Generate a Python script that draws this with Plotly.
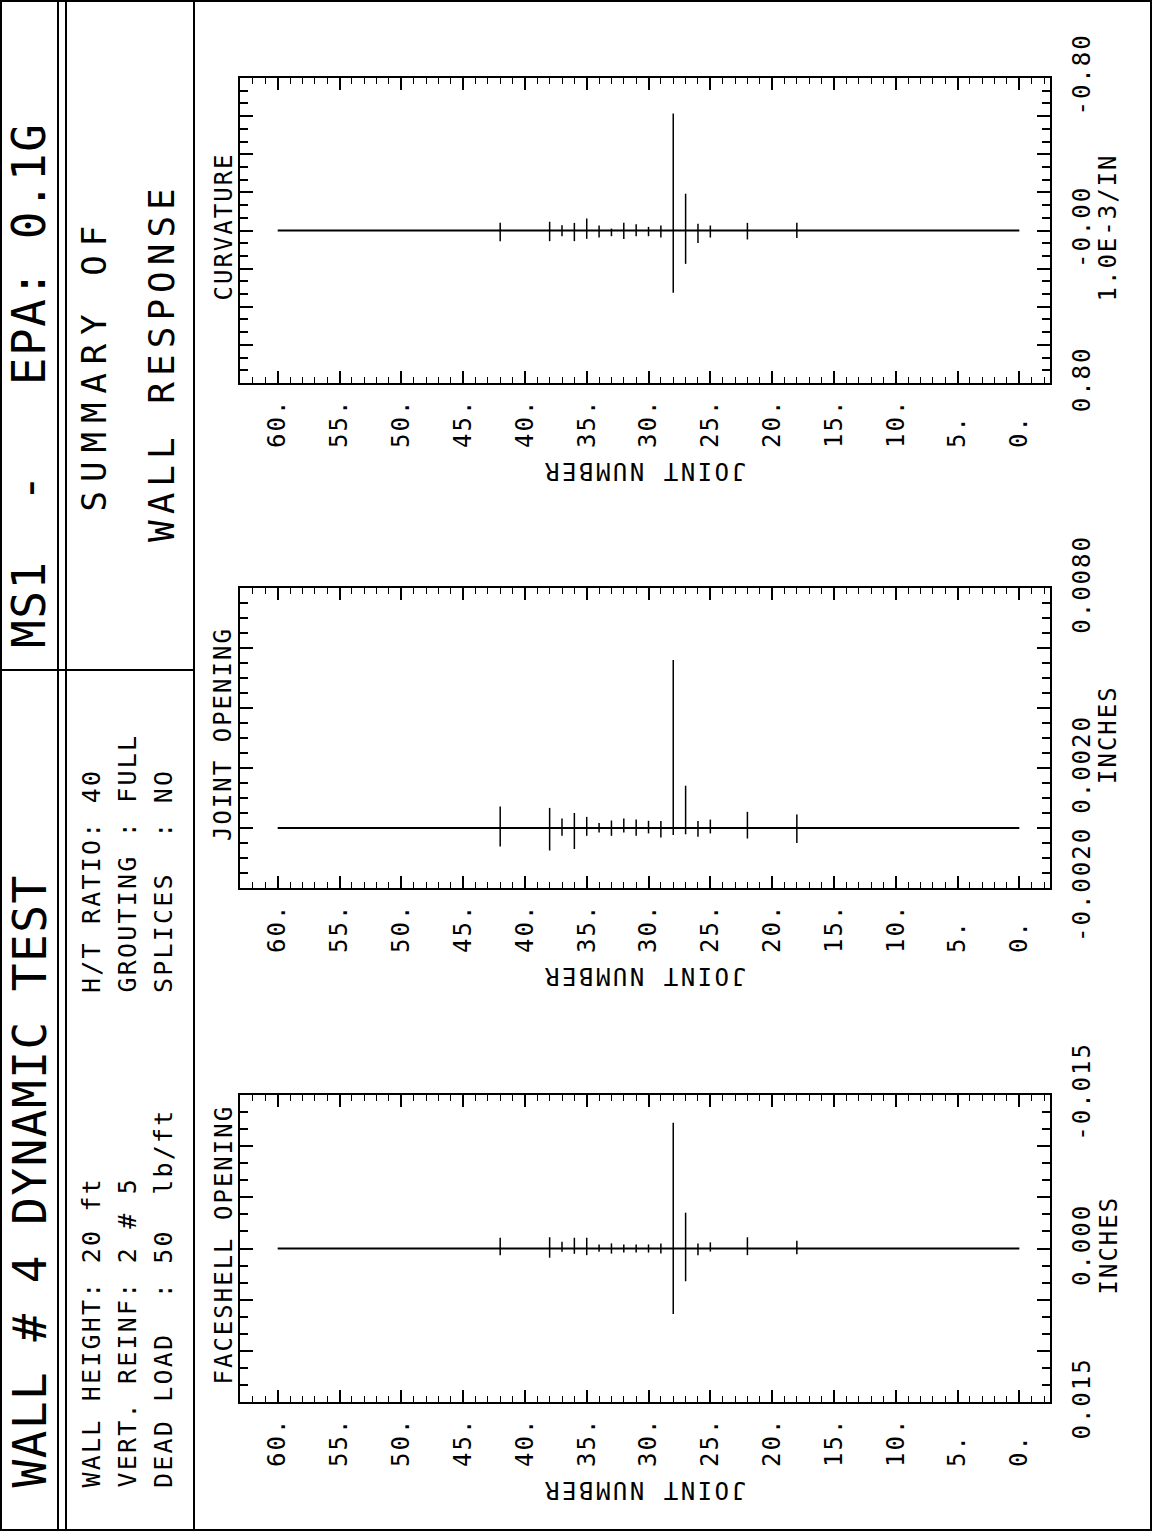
import plotly.graph_objects as go

W, H = 1156, 1533
FONT = "DejaVu Sans Mono"

# ---------------------------------------------------------------- data
# joints carrying an envelope bar (min / max response over the record)
joints = [42, 38, 37, 36, 35, 34, 33, 32, 31, 30, 29, 28, 27, 26, 25, 22, 18]

curvature_min = [-0.040, -0.046, -0.028, -0.040, -0.063, -0.026, -0.010, -0.040, -0.033,
                 -0.019, -0.026, -0.614, -0.193, -0.035, -0.026, -0.040, -0.040]
curvature_max = [0.056, 0.056, 0.030, 0.056, 0.044, 0.037, 0.030, 0.044, 0.030,
                 0.030, 0.037, 0.327, 0.175, 0.065, 0.037, 0.047, 0.040]

joint_open_min = [-0.00062, -0.00075, -0.00026, -0.00070, -0.00026, -0.00015, -0.00026, -0.00015,
                  -0.00026, -0.00018, -0.00032, -0.00023, -0.00021, -0.00029, -0.00018, -0.00035, -0.00050]
joint_open_max = [0.00072, 0.00067, 0.00032, 0.00050, 0.00037, 0.00017, 0.00025, 0.00032,
                  0.00028, 0.00024, 0.00023, 0.00560, 0.00141, 0.00023, 0.00028, 0.00054, 0.00045]

faceshell_min = [-0.00105, -0.00110, -0.00065, -0.00105, -0.00105, -0.00040, -0.00050, -0.00040,
                 -0.00040, -0.00040, -0.00050, -0.01230, -0.00350, -0.00050, -0.00060, -0.00110, -0.00075]
faceshell_max = [0.00065, 0.00090, 0.00032, 0.00052, 0.00065, 0.00032, 0.00050, 0.00040,
                 0.00040, 0.00040, 0.00050, 0.00640, 0.00320, 0.00065, 0.00030, 0.00065, 0.00055]

# zero reference line over the wall height
baseline_joints = [60, 0]
baseline_values = [0.0, 0.0]

joint_ticks = [60, 55, 50, 45, 40, 35, 30, 25, 20, 15, 10, 5, 0]
joint_labels = ["60.", "55.", "50.", "45.", "40.", "35.", "30.", "25.", "20.", "15.", "10.", "5.", "0."]

curv_label_vals = [-0.8, 0.0, 0.8]
curv_label_text = ["-0.80", "-0.00", "0.80"]
jo_label_vals = [-0.002, 0.002, 0.008]
jo_label_text = ["-0.0020", "0.0020", "0.0080"]
fs_label_vals = [-0.015, 0.0, 0.015]
fs_label_text = ["-0.015", "0.000", "0.015"]


def sp(text, ls):
    return f'<span style="letter-spacing:{ls}px">{text}</span>'


def px(x):
    return x / W


def py(y):
    return 1 - y / H


def bars(js, lo, hi):
    xs, ys = [], []
    for j, a, b in zip(js, lo, hi):
        xs += [j, j, None]
        ys += [a, b, None]
    return xs, ys


fig = go.Figure()

panels = [
    dict(n="", m="4", top=78, bottom=383, title="CURVATURE", unit="1.0E-3/IN",
         rng=[0.8, -0.8], major=0.2, nminor=3,
         lv=curv_label_vals, lt=curv_label_text, lo=curvature_min, hi=curvature_max),
    dict(n="2", m="5", top=588, bottom=888, title="JOINT OPENING", unit="INCHES",
         rng=[-0.002, 0.008], major=0.002, nminor=4,
         lv=jo_label_vals, lt=jo_label_text, lo=joint_open_min, hi=joint_open_max),
    dict(n="3", m="6", top=1095, bottom=1402, title="FACESHELL OPENING", unit="INCHES",
         rng=[0.015, -0.015], major=0.005, nminor=3,
         lv=fs_label_vals, lt=fs_label_text, lo=faceshell_min, hi=faceshell_max),
]

X0, X1 = 240, 1050
tick_font = dict(family=FONT, size=24, color="black")
frame = dict(showline=True, linewidth=2, linecolor="black", mirror="ticks",
             showgrid=False, zeroline=False, automargin=False)


def note(text, x, y, size, ls, angle=-90, xanchor="center", yanchor="middle"):
    fig.add_annotation(text=sp(text, ls), x=px(x), y=py(y), xref="paper", yref="paper",
                       showarrow=False, textangle=angle, xanchor=xanchor, yanchor=yanchor,
                       font=dict(family=FONT, size=size, color="black"))


for p in panels:
    n, m = p["n"], p["m"]
    xa, ya, ym = "x" + n, "y" + n, "y" + m
    # baseline on the fine-tick overlay axis (same range), envelopes on the main one
    fig.add_trace(go.Scatter(x=baseline_joints, y=baseline_values, mode="lines",
                             line=dict(color="black", width=2), xaxis=xa, yaxis=ym,
                             showlegend=False, hoverinfo="skip"))
    bx, by = bars(joints, p["lo"], p["hi"])
    fig.add_trace(go.Scatter(x=bx, y=by, mode="lines", line=dict(color="black", width=1.5),
                             xaxis=xa, yaxis=ya, showlegend=False, hoverinfo="skip"))

    # joint-number axis (horizontal)
    xt = [sp(t if len(t) == 3 else t + "\u00a0", 2) for t in joint_labels]
    fig.update_layout(**{
        "xaxis" + n: dict(
            domain=[px(X0), px(X1)], anchor=ya, range=[63.05, -2.48],
            tickmode="array", tickvals=joint_ticks, ticktext=xt, tickangle=-90,
            ticks="inside", ticklen=12, tickwidth=1.5, tickcolor="black",
            minor=dict(tickmode="array", tickvals=list(range(-2, 64)), ticks="inside",
                       ticklen=6, tickwidth=1.3, tickcolor="black"),
            tickfont=tick_font, ticklabelstandoff=4, **frame),
    })

    # response axis (vertical): labelled major ticks + overlay carrying the fine ticks
    lo_v, hi_v = min(p["rng"]), max(p["rng"])
    nmaj = int(round((hi_v - lo_v) / p["major"]))
    majors = [round(lo_v + i * p["major"], 7) for i in range(nmaj + 1)]
    texts = []
    for v in majors:
        lab = ""
        for lv, lt in zip(p["lv"], p["lt"]):
            if abs(lv - v) < 1e-9:
                lab = sp(lt, 2)
        texts.append(lab)
    fig.update_layout(**{
        "yaxis" + n: dict(
            domain=[py(p["bottom"]), py(p["top"])], anchor=xa, range=p["rng"], side="right",
            tickmode="array", tickvals=majors, ticktext=texts, tickangle=-90,
            ticks="inside", ticklen=13, tickwidth=1.5, tickcolor="black",
            tickfont=tick_font, ticklabelstandoff=9, **frame),
        "yaxis" + m: dict(
            overlaying=ya, anchor=xa, range=p["rng"], side="left",
            tickmode="linear", tick0=lo_v, dtick=p["major"] / p["nminor"],
            showticklabels=False, ticks="inside", ticklen=8, tickwidth=1.6,
            tickcolor="black", showline=False, mirror="allticks",
            showgrid=False, zeroline=False, automargin=False),
    })

    mid = (p["top"] + p["bottom"]) / 2
    note(p["title"], 223, mid - 4, 24, 2)
    note(p["unit"], 1108, mid - 3, 24, 2)
    note("JOINT NUMBER", 645, p["bottom"] + 88, 24, 2.5, angle=180)

# ---------------------------------------------------------------- header block
note("WALL # 4 DYNAMIC TEST", 29, 1490, 46, 1.5, yanchor="bottom")
note("MS1  -   EPA: 0.1G", 29, 120, 46, 1.5, yanchor="top")

info_left = ["WALL HEIGHT: 20 ft", "VERT. REINF: 2 # 5", "DEAD LOAD  : 50  lb/ft"]
info_right = ["H/T RATIO: 40", "GROUTING : FULL", "SPLICES  : NO"]
for xc, a, b in zip([91, 127, 163], info_left, info_right):
    note(a, xc, 1490, 25, 2.2, yanchor="bottom")
    note(b, xc, 995, 25, 2.2, yanchor="bottom")

note("SUMMARY OF", 94, 215, 34, 9, yanchor="top")
note("WALL RESPONSE", 161, 180, 36, 6, yanchor="top")

# page frame
line = dict(color="black", width=2)
fig.add_shape(type="rect", x0=px(1), x1=px(1151), y0=py(1530), y1=py(1), xref="paper", yref="paper", line=line)
for xv in (58, 66, 194):
    fig.add_shape(type="line", x0=px(xv), x1=px(xv), y0=py(1530), y1=py(1),
                  xref="paper", yref="paper", line=line)
fig.add_shape(type="line", x0=px(1), x1=px(194), y0=py(670), y1=py(670),
              xref="paper", yref="paper", line=line)

fig.update_layout(width=W, height=H, autosize=False, margin=dict(l=0, r=0, t=0, b=0, pad=0),
                  paper_bgcolor="white", plot_bgcolor="white", showlegend=False)

fig.write_html("out.html")
